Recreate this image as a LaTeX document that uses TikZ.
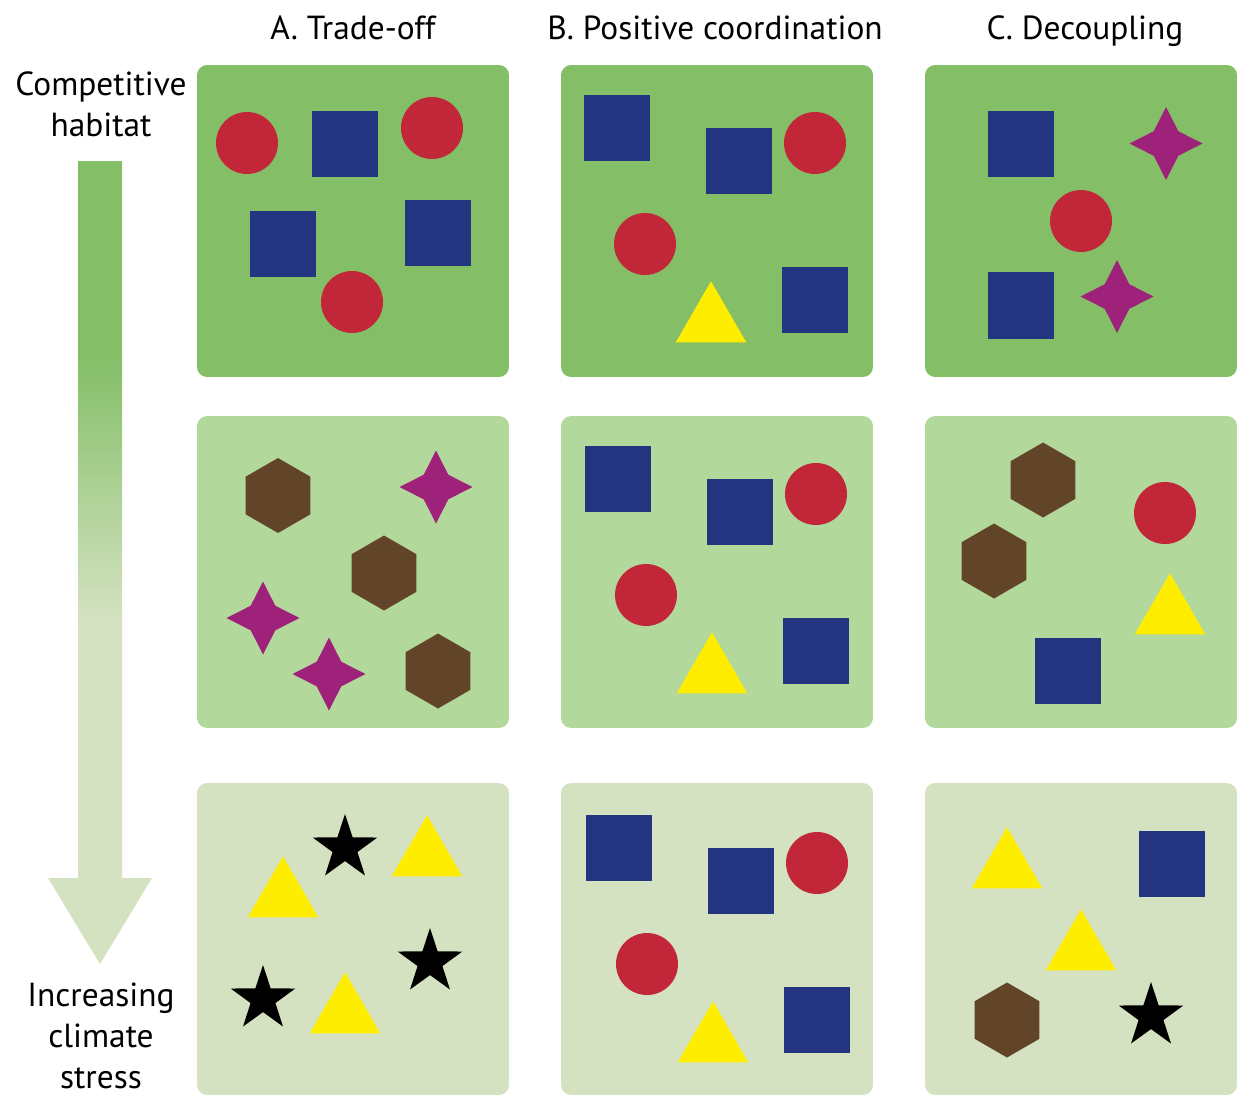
\documentclass[tikz,border=0pt]{standalone}
\usepackage{fontspec}
\setmainfont{PT Sans}
\usetikzlibrary{shapes.geometric}

\definecolor{habitatA}{RGB}{132,191,104}
\definecolor{habitatB}{RGB}{179,216,155}
\definecolor{habitatC}{RGB}{213,226,194}
\definecolor{sqblue}{RGB}{35,52,128}
\definecolor{discred}{RGB}{193,39,57}
\definecolor{triyellow}{RGB}{255,237,0}
\definecolor{hexbrown}{RGB}{98,68,40}
\definecolor{diapurple}{RGB}{158,33,122}

\begin{document}
\begin{tikzpicture}[x=0.02cm, y=-0.02cm]

        \def\panelsize{6.24}        % side of a habitat panel
        \def\sqsize{1.33}           % square side
        \def\discsize{1.24}         % circle diameter
        \def\trisize{1.63}          % triangle, circumcircle diameter
        \def\hexsize{1.5}           % hexagon, circumcircle diameter
        \def\diasize{1.46}          % four pointed star
        \def\starsize{1.36}         % five pointed star
        \tikzstyle{panel}=[rectangle,rounded corners=0.2cm,minimum size=\panelsize cm,inner sep=0pt]
        \tikzstyle{sq}=[rectangle,fill=sqblue,minimum size=\sqsize cm,inner sep=0pt]
        \tikzstyle{disc}=[circle,fill=discred,minimum size=\discsize cm,inner sep=0pt]
        \tikzstyle{tri}=[regular polygon,regular polygon sides=3,fill=triyellow,minimum size=\trisize cm,inner sep=0pt]
        \tikzstyle{hex}=[regular polygon,regular polygon sides=6,shape border rotate=30,fill=hexbrown,minimum size=\hexsize cm,inner sep=0pt]
        \tikzstyle{diam}=[star,star points=4,star point ratio=2.1,fill=diapurple,minimum size=\diasize cm,inner sep=0pt]
        \tikzstyle{pstar}=[star,star points=5,star point ratio=2.6,fill=black,minimum size=\starsize cm,inner sep=0pt]
        \tikzstyle{annot}=[font={\fontsize{19pt}{23.2pt}\selectfont}]

        \useasboundingbox (0,0) rectangle (1243,1096);

        % Draw the habitat panels, one row per stress level
            \foreach \col/\cx in {A/353,B/717,C/1081}{
                \node[panel,fill=habitatA] (\col1) at (\cx,221) {};
                \node[panel,fill=habitatB] (\col2) at (\cx,572) {};
                \node[panel,fill=habitatC] (\col3) at (\cx,939) {};
            }

        % Column heads
            \node[annot,anchor=base] (headA) at (353,39) {A. Trade-off};
            \node[annot,anchor=base] (headB) at (715,39) {B. Positive coordination};
            \node[annot,anchor=base] (headC) at (1085,39) {C. Decoupling};

        % Stress arrow, green fading out downwards
            \begin{scope}
                \clip (78,161) -- (122,161) -- (122,878) -- (152,878) -- (100,964) -- (48,878) -- (78,878) -- cycle;
                \fill[habitatA] (40,150) rectangle (160,357);
                \shade[top color=habitatA,bottom color=habitatC] (40,357) rectangle (160,623);
                \fill[habitatC] (40,623) rectangle (160,970);
            \end{scope}
            \node[annot,align=center] (top) at (101,104) {Competitive\\habitat};
            \node[annot,align=center] (bottom) at (101,1036) {Increasing\\climate\\stress};

        % A. Trade-off
            \foreach \x/\y [count=\i] in {247/143,432/128,352/302}
                \node[disc] (discA1-\i) at (\x,\y) {};
            \foreach \x/\y [count=\i] in {345/144,283/244,438/233}
                \node[sq] (sqA1-\i) at (\x,\y) {};
            \foreach \x/\y [count=\i] in {278/495.5,384/573,438/671}
                \node[hex] (hexA2-\i) at (\x,\y) {};
            \foreach \x/\y [count=\i] in {436/487,263/618,329/674}
                \node[diam] (diamA2-\i) at (\x,\y) {};
            \foreach \x/\y [count=\i] in {345/848,430/962,263/999}
                \node[pstar] (starA3-\i) at (\x,\y) {};
            \foreach \x/\y [count=\i] in {427/856,283/897,345/1013}
                \node[tri] (triA3-\i) at (\x,\y) {};

        % B. Positive coordination, same set in every row
            \foreach \r/\dy in {1/0,2/351,3/720}{
                \foreach \x/\y [count=\i] in {617/128,739/161,815/300}
                    \node[sq] (sqB\r-\i) at (\x+\r*1-1,\y+\dy) {};
                \foreach \x/\y [count=\i] in {815/143,645/244}
                    \node[disc] (discB\r-\i) at (\x+\r*1-1,\y+\dy) {};
                \node[tri] (triB\r) at (711+\r*1-1,322+\dy) {};
            }

        % C. Decoupling
            \foreach \x/\y [count=\i] in {1021/144,1021/305.5}
                \node[sq] (sqC1-\i) at (\x,\y) {};
            \node[disc] (discC1) at (1081,221) {};
            \foreach \x/\y [count=\i] in {1166/143.5,1117/296.5}
                \node[diam] (diamC1-\i) at (\x,\y) {};
            \foreach \x/\y [count=\i] in {1043/480,994/561}
                \node[hex] (hexC2-\i) at (\x,\y) {};
            \node[disc] (discC2) at (1165,513) {};
            \node[tri] (triC2) at (1170,614) {};
            \node[sq] (sqC2) at (1068,671) {};
            \foreach \x/\y [count=\i] in {1007/868,1081/950}
                \node[tri] (triC3-\i) at (\x,\y) {};
            \node[sq] (sqC3) at (1172,864) {};
            \node[hex] (hexC3) at (1007,1020) {};
            \node[pstar] (starC3) at (1151,1016) {};

\end{tikzpicture}
\end{document}
